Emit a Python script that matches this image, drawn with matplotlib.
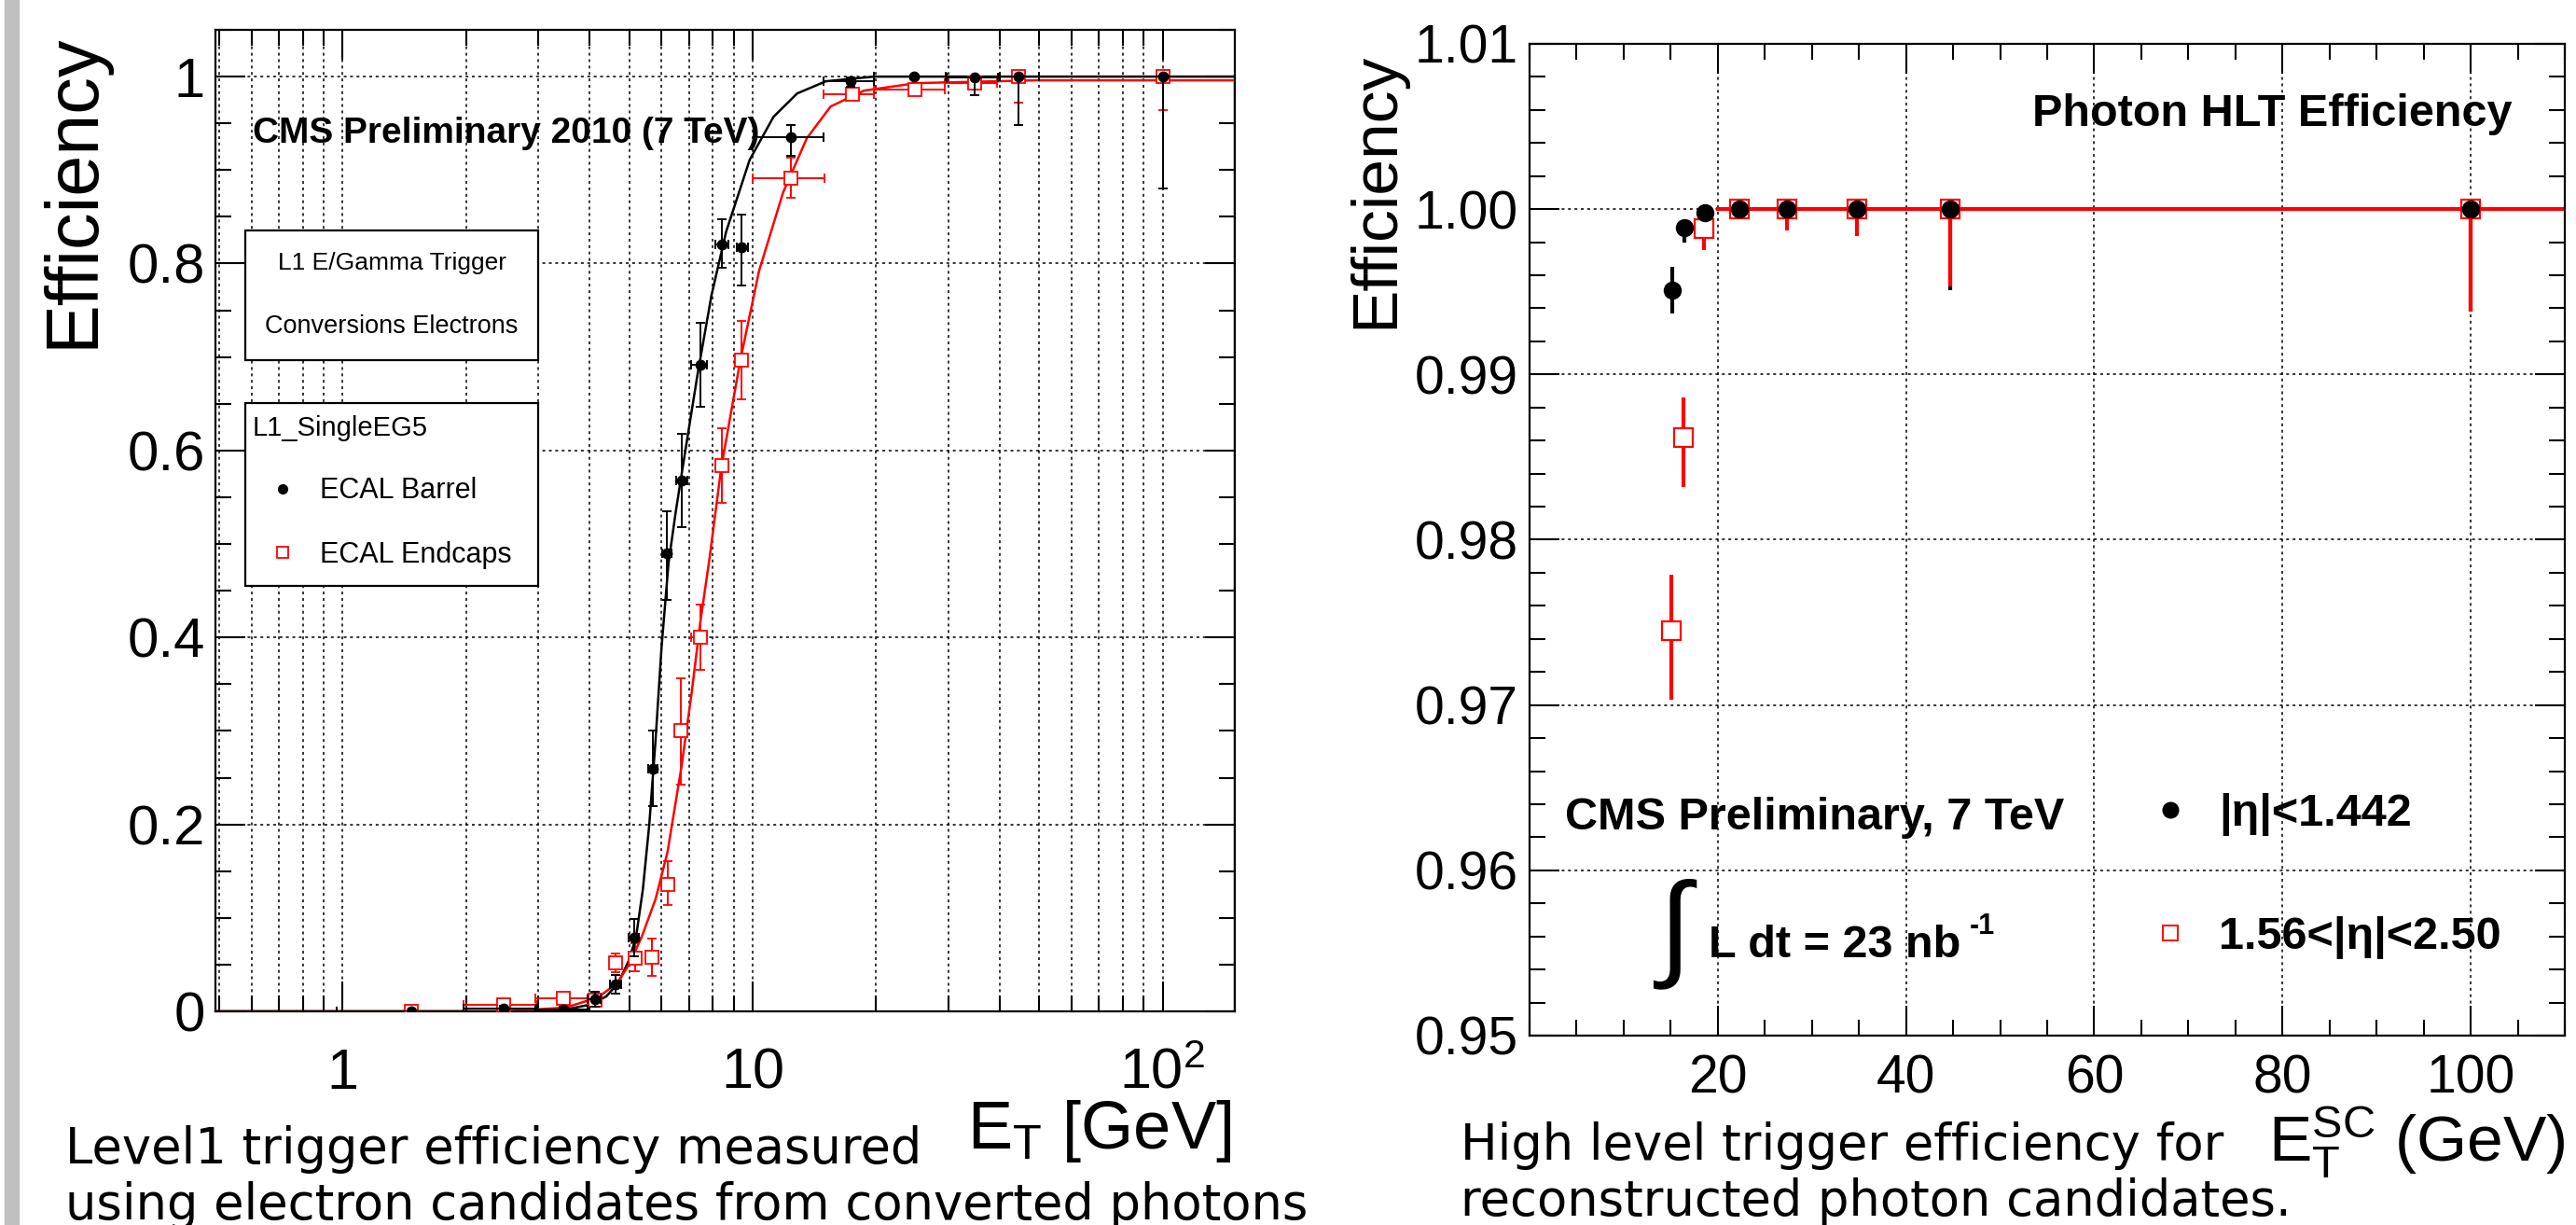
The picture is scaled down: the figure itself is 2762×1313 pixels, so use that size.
import matplotlib.pyplot as plt
from matplotlib.lines import Line2D
from matplotlib.patches import Rectangle
from matplotlib.ticker import FixedLocator, FixedFormatter, MultipleLocator, LogLocator, NullFormatter

plt.rcParams['font.family'] = ['Liberation Sans', 'DejaVu Sans']
plt.rcParams['mathtext.fontset'] = 'custom'
plt.rcParams['mathtext.rm'] = 'Liberation Sans'
plt.rcParams['mathtext.it'] = 'Liberation Sans:italic'
plt.rcParams['mathtext.bf'] = 'Liberation Sans:bold'
plt.rcParams['mathtext.default'] = 'regular'

# ---- Level1 trigger efficiency (left) ----
# ECAL barrel (black dots)
l1_eb_x = [1.47, 2.47, 3.46, 4.12, 4.63, 5.14, 5.71, 6.18, 6.72, 7.45, 8.41, 9.41, 12.4, 17.3, 24.8, 34.8, 44.6, 100]
l1_eb_y = [0.0, 0.003, 0.002, 0.013, 0.029, 0.079, 0.26, 0.49, 0.568, 0.692, 0.82, 0.817, 0.935, 0.995, 1.0, 0.999, 1.0, 1.0]
l1_eb_ylo = [0.0, 0.003, 0.003, 0.008, 0.01, 0.02, 0.04, 0.05, 0.05, 0.045, 0.025, 0.04, 0.02, 0.006, 0.003, 0.019, 0.052, 0.12]
l1_eb_yhi = [0.0, 0.003, 0.003, 0.008, 0.01, 0.02, 0.04, 0.045, 0.05, 0.045, 0.027, 0.035, 0.013, 0.004, 0.0, 0.001, 0.0, 0.0]
l1_eb_xlo = [0.5, 0.5, 0.5, 0.15, 0.15, 0.15, 0.15, 0.15, 0.2, 0.35, 0.3, 0.25, 2.3, 2.4, 5.0, 5.0, 4.6, 50]
l1_eb_xhi = [0.5, 0.5, 0.5, 0.15, 0.15, 0.15, 0.15, 0.15, 0.2, 0.3, 0.3, 0.35, 2.5, 2.5, 4.8, 4.8, 5.4, 50]

# ECAL endcaps (red open squares)
l1_ee_x = [1.47, 2.47, 3.46, 4.12, 4.63, 5.17, 5.68, 6.2, 6.7, 7.45, 8.41, 9.41, 12.4, 17.5, 24.9, 34.8, 44.6, 100]
l1_ee_y = [0.0, 0.007, 0.014, 0.012, 0.052, 0.057, 0.058, 0.136, 0.30, 0.40, 0.584, 0.697, 0.891, 0.981, 0.986, 0.993, 1.0, 1.0]
l1_ee_ylo = [0.0, 0.005, 0.006, 0.006, 0.01, 0.014, 0.02, 0.022, 0.057, 0.035, 0.04, 0.042, 0.021, 0.006, 0.004, 0.005, 0.028, 0.036]
l1_ee_yhi = [0.0, 0.005, 0.006, 0.006, 0.01, 0.016, 0.02, 0.025, 0.056, 0.035, 0.04, 0.042, 0.022, 0.006, 0.004, 0.004, 0.0, 0.0]
l1_ee_xlo = [0.5, 0.5, 0.5, 0.15, 0.15, 0.15, 0.15, 0.15, 0.2, 0.35, 0.3, 0.3, 2.4, 2.6, 5.1, 5.3, 4.6, 50]
l1_ee_xhi = [0.5, 0.5, 0.5, 0.15, 0.15, 0.15, 0.15, 0.15, 0.2, 0.3, 0.3, 0.3, 2.6, 2.3, 4.6, 4.6, 5.4, 50]

# fitted turn-on curves
fit_eb_x = [0.49, 3.0, 3.5, 4.0, 4.4, 4.7, 5.0, 5.2, 5.4, 5.6, 5.8, 6.0, 6.24, 6.5, 6.8, 7.34, 7.94, 8.62, 9.84, 11.25, 12.85, 15.1, 19.8, 30.0, 150]
fit_eb_y = [0.0, 0.0, 0.002, 0.007, 0.016, 0.03, 0.055, 0.08, 0.13, 0.2, 0.29, 0.39, 0.48, 0.535, 0.59, 0.681, 0.766, 0.834, 0.911, 0.957, 0.982, 0.995, 1.0, 1.0, 1.0]
fit_ee_x = [0.49, 2.5, 3.5, 4.2, 4.67, 5.0, 5.37, 5.8, 6.2, 6.7, 7.1, 7.45, 7.85, 8.39, 9.34, 10.37, 11.87, 13.56, 15.5, 18.7, 25.1, 48.9, 150, 150]
fit_ee_y = [0.0, 0.0, 0.004, 0.015, 0.03, 0.05, 0.08, 0.12, 0.17, 0.26, 0.34, 0.415, 0.484, 0.582, 0.697, 0.792, 0.876, 0.934, 0.968, 0.985, 0.993, 0.996, 0.996, 0.0]

# ---- Photon HLT efficiency (right) ----
hlt_eb_x = [15.2, 16.5, 18.6, 22.3, 27.4, 34.8, 44.7, 100]
hlt_eb_y = [0.9951, 0.9989, 0.9998, 1.0, 1.0, 1.0, 1.0, 1.0]
hlt_eb_ylo = [0.0014, 0.0009, 0.0003, 0.0001, 0.0003, 0.0003, 0.0049, 0.0062]
hlt_eb_yhi = [0.0014, 0.0004, 0.0002, 0.0, 0.0, 0.0, 0.0, 0.0]

hlt_ee_x = [15.1, 16.4, 18.5, 22.3, 27.4, 34.8, 44.7, 100]
hlt_ee_y = [0.9745, 0.9862, 0.9988, 1.0, 1.0, 1.0, 1.0, 1.0]
hlt_ee_ylo = [0.0042, 0.0030, 0.0013, 0.0002, 0.0013, 0.0016, 0.0047, 0.0062]
hlt_ee_yhi = [0.0034, 0.0024, 0.0006, 0.0, 0.0, 0.0, 0.0, 0.0]

hlt_fit_x = [20, 110]
hlt_fit_y = [1.0, 1.0]

W, H = 2762, 1313
fig = plt.figure(figsize=(W / 100, H / 100), dpi=100)
fig.patches.append(Rectangle((5 / W, 0), 15 / W, 1, transform=fig.transFigure, color='#c0c0c0'))

grid_kw = dict(color='black', linestyle=(0, (2, 2.5)), linewidth=1.1)


def root_ticks(ax):
    ax.tick_params(which='both', direction='in', top=True, right=True, width=1.5)
    ax.tick_params(which='major', length=23)
    ax.tick_params(which='minor', length=12)
    for s in ax.spines.values():
        s.set_linewidth(1.6)


# ---------------- left panel ----------------
ax1 = fig.add_axes([231 / W, 1 - 1084 / H, 1093 / W, 1052 / H])
ax1.set_xscale('log')
ax1.set_xlim(0.49, 150)
ax1.set_ylim(0, 1.05)
root_ticks(ax1)
ax1.xaxis.set_major_locator(FixedLocator([1, 10, 100]))
ax1.xaxis.set_major_formatter(FixedFormatter(['1', '10', '$10^{2}$']))
ax1.xaxis.set_minor_locator(LogLocator(base=10, subs=[2, 3, 4, 5, 6, 7, 8, 9]))
ax1.xaxis.set_minor_formatter(NullFormatter())
ax1.yaxis.set_major_locator(FixedLocator([0, 0.2, 0.4, 0.6, 0.8, 1.0]))
ax1.yaxis.set_major_formatter(FixedFormatter(['0', '0.2', '0.4', '0.6', '0.8', '1']))
ax1.yaxis.set_minor_locator(MultipleLocator(0.05))
ax1.tick_params(axis='x', which='major', labelsize=44, pad=28)
ax1.tick_params(axis='y', which='major', labelsize=43, pad=8)
ax1.set_axisbelow(True)
ax1.grid(axis='x', which='both', **grid_kw)
ax1.grid(axis='y', which='major', **grid_kw)

ax1.plot(fit_eb_x, fit_eb_y, color='black', lw=1.8, zorder=2)
ax1.plot(fit_ee_x, fit_ee_y, color='red', lw=1.8, zorder=2.1)
ax1.errorbar(l1_ee_x, l1_ee_y, yerr=[l1_ee_ylo, l1_ee_yhi], xerr=[l1_ee_xlo, l1_ee_xhi],
             fmt='s', color='red', mfc='white', mec='red', ms=10, mew=1.3,
             elinewidth=1.4, capsize=3.5, capthick=1.4, zorder=3)
ax1.errorbar(l1_eb_x, l1_eb_y, yerr=[l1_eb_ylo, l1_eb_yhi], xerr=[l1_eb_xlo, l1_eb_xhi],
             fmt='o', color='black', ms=7.5,
             elinewidth=1.4, capsize=3.5, capthick=1.4, zorder=4)

ax1.text(0.0366, 0.885, 'CMS Preliminary 2010 (7 TeV)', transform=ax1.transAxes,
         fontsize=28, fontweight='bold', va='baseline', ha='left')

ax1.add_patch(Rectangle((0.0293, 0.6635), 0.2872, 0.1321, transform=ax1.transAxes,
                        facecolor='white', edgecolor='black', lw=1.6, zorder=4))
ax1.text(0.173, 0.7628, 'L1 E/Gamma Trigger', transform=ax1.transAxes,
         fontsize=19, ha='center', va='center', zorder=5)
ax1.text(0.173, 0.6977, 'Conversions Electrons', transform=ax1.transAxes,
         fontsize=19.5, ha='center', va='center', zorder=5)

ax1.add_patch(Rectangle((0.0293, 0.4335), 0.2872, 0.1863, transform=ax1.transAxes,
                        facecolor='white', edgecolor='black', lw=1.6, zorder=4))
h_eb = Line2D([], [], marker='o', color='black', ls='none', ms=7)
h_ee = Line2D([], [], marker='s', color='red', mfc='white', ls='none', ms=9, mew=1.3)
leg1 = ax1.legend([h_eb, h_ee], ['ECAL Barrel', 'ECAL Endcaps'], title='L1_SingleEG5',
                  loc='upper left', bbox_to_anchor=(0.0366, 0.6075), frameon=False,
                  fontsize=22, title_fontsize=21, alignment='left',
                  handlelength=2.1, handletextpad=0.25, labelspacing=1.26,
                  borderpad=0, borderaxespad=0)
leg1.set_zorder(6)

ax1.text(0.997, -0.1397, 'E$_{T}$ [GeV]', transform=ax1.transAxes,
         fontsize=52, ha='right', va='baseline')
ax1.text(-0.139, 0.997, 'Efficiency', transform=ax1.transAxes,
         fontsize=57, rotation=90, ha='center', va='top')

# ---------------- right panel ----------------
ax2 = fig.add_axes([1640 / W, 1 - 1110 / H, 1110 / W, 1063 / H])
ax2.set_xlim(0, 110)
ax2.set_ylim(0.95, 1.01)
root_ticks(ax2)
ax2.xaxis.set_major_locator(FixedLocator([20, 40, 60, 80, 100]))
ax2.xaxis.set_minor_locator(MultipleLocator(5))
ax2.yaxis.set_major_locator(MultipleLocator(0.01))
ax2.yaxis.set_major_formatter(plt.FormatStrFormatter('%.2f'))
ax2.yaxis.set_minor_locator(MultipleLocator(0.002))
ax2.tick_params(axis='x', which='major', labelsize=41, pad=14)
ax2.tick_params(axis='y', which='major', labelsize=41, pad=9)
ax2.set_axisbelow(True)
ax2.grid(which='major', **grid_kw)

ax2.errorbar(hlt_eb_x, hlt_eb_y, yerr=[hlt_eb_ylo, hlt_eb_yhi], fmt='none',
             ecolor='black', elinewidth=3, zorder=2)
ax2.plot(hlt_fit_x, hlt_fit_y, color='red', lw=3, zorder=2.5)
ax2.errorbar(hlt_ee_x, hlt_ee_y, yerr=[hlt_ee_ylo, hlt_ee_yhi], fmt='none',
             ecolor='red', elinewidth=3, zorder=3)
ax2.plot(hlt_ee_x, hlt_ee_y, 's', color='red', mfc='white', ms=14, mew=1.6, zorder=4)
ax2.plot(hlt_eb_x, hlt_eb_y, 'o', color='black', ms=13, zorder=5)

ax2.text(0.9495, 0.917, 'Photon HLT Efficiency', transform=ax2.transAxes,
         fontsize=35, fontweight='bold', ha='right', va='baseline')
ax2.text(0.0342, 0.208, 'CMS Preliminary, 7 TeV', transform=ax2.transAxes,
         fontsize=35, fontweight='bold', ha='left', va='baseline')
ax2.text(0.1414, 0.1016, r'$\int$', transform=ax2.transAxes, math_fontfamily='stix',
         fontsize=90, ha='center', va='center')
ax2.text(0.173, 0.079, 'L dt = 23 nb', transform=ax2.transAxes,
         fontsize=35, fontweight='bold', ha='left', va='baseline')
ax2.text(0.425, 0.1025, '-1', transform=ax2.transAxes,
         fontsize=22, fontweight='bold', ha='left', va='baseline')

h2_eb = Line2D([], [], marker='o', color='black', ls='none', ms=12)
h2_ee = Line2D([], [], marker='s', color='red', mfc='white', ls='none', ms=12, mew=1.4)
ax2.legend([h2_eb, h2_ee], ['|\u03b7|<1.442', '1.56<|\u03b7|<2.50'],
           loc='upper left', bbox_to_anchor=(0.597, 0.2444), frameon=False,
           prop=dict(size=35, weight='bold'), handlelength=1.0, handletextpad=0.58,
           labelspacing=1.77, borderpad=0, borderaxespad=0)

ax2.text(1.001, -0.127, 'E$_{T}^{SC}$ (GeV)', transform=ax2.transAxes,
         fontsize=50, ha='right', va='baseline')
ax2.text(-0.1486, 0.992, 'Efficiency', transform=ax2.transAxes,
         fontsize=50, rotation=90, ha='center', va='top')

# captions under the panels
fig.text(70 / W, 1 - 1247 / H, 'Level1 trigger efficiency measured',
         family='DejaVu Sans', fontsize=38, va='baseline')
fig.text(70 / W, 1 - 1307 / H, 'using electron candidates from converted photons',
         family='DejaVu Sans', fontsize=38, va='baseline')
fig.text(1566 / W, 1 - 1243 / H, 'High level trigger efficiency for',
         family='DejaVu Sans', fontsize=38, va='baseline')
fig.text(1566 / W, 1 - 1303 / H, 'reconstructed photon candidates.',
         family='DejaVu Sans', fontsize=38, va='baseline')

fig.savefig('out.png', dpi=100)
